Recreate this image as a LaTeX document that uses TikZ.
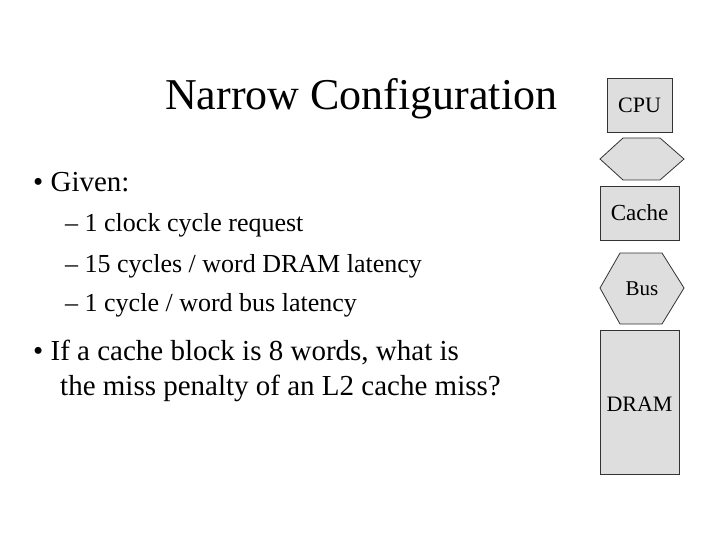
\documentclass[tikz,border=0pt]{standalone}
\usepackage{fontspec}
\setmainfont{Liberation Serif}
\usetikzlibrary{shapes.geometric}
\begin{document}
\begin{tikzpicture}[x=1pt,y=-1pt,
    unit/.style={draw=black!80,fill=black!13,line width=0.8pt},
    txt/.style={anchor=base west,inner sep=0pt,font=\fontsize{26}{30}\selectfont}]
    \useasboundingbox (0,0) rectangle (720,540);
    % title
    \node[anchor=base west,inner sep=0pt,font=\fontsize{44}{50}\selectfont] (title) at (165,110) {Narrow Configuration};

    % bullets
    \node[txt,font=\fontsize{29}{34}\selectfont] (given) at (33,192) {\textbullet\ Given:};
    \node[txt] (req) at (65,231) {-- 1 clock cycle request};
    \node[txt] (dram lat) at (65,272) {-- 15 cycles / word DRAM latency};
    \node[txt] (bus lat) at (65,311) {-- 1 cycle / word bus latency};
    \node[txt,font=\fontsize{29}{34}\selectfont] (q1) at (33,360) {\textbullet\ If a cache block is 8 words, what is};
    \node[txt,font=\fontsize{29}{34}\selectfont] (q2) at (60,395) {the miss penalty of an L2 cache miss?};

    % hierarchy
    \draw[unit] (607,78) rectangle (672,132);
    \node[font=\fontsize{22}{26}\selectfont] (cpu) at (639.5,105) {CPU};
    \draw[unit] (623,138) -- (660,138) -- (684,159) -- (660,180) -- (623,180) -- (600,159) -- cycle;
    \draw[unit] (600,186) rectangle (679,240);
    \node[font=\fontsize{23}{26}\selectfont] (cache) at (639.5,213) {Cache};
    \draw[unit] (620,253) -- (662,253) -- (684,288) -- (662,324) -- (620,324) -- (600,288) -- cycle;
    \node[font=\fontsize{21}{24}\selectfont] (bus) at (642,289) {Bus};
    \draw[unit] (600,330) rectangle (679,474);
    \node[font=\fontsize{22}{26}\selectfont] (dram) at (639.5,404) {DRAM};
\end{tikzpicture}
\end{document}
